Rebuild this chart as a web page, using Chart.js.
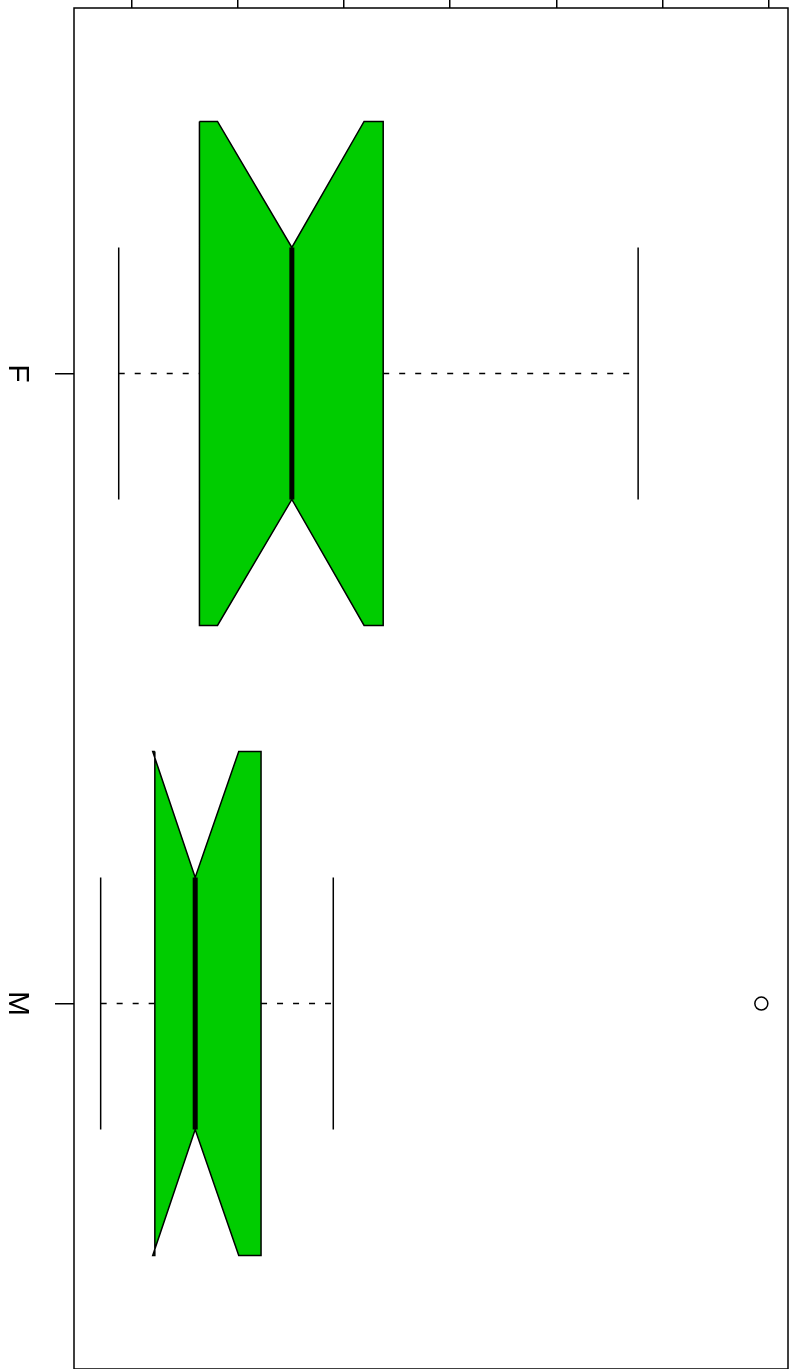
<!DOCTYPE html>
<html>
<head>
<meta charset="utf-8">
<script src="https://cdn.jsdelivr.net/npm/chart.js@4.4.1/dist/chart.umd.min.js"></script>
<style>
  html, body { margin: 0; padding: 0; background: #fff; }
  canvas { display: block; }
</style>
</head>
<body>
<canvas id="boxChart" width="794" height="1369"></canvas>
<script>
// box statistics, one entry per group
const categories = ['F', 'M'];
const whiskerLow = [8.8, 7.1];
const hingeLow = [16.4, 12.2];
const notchLow = [18.1, 12.0];
const medians = [25.1, 16.0];
const notchHigh = [31.9, 20.1];
const hingeHigh = [33.7, 22.2];
const whiskerHigh = [57.7, 29.0];
const outliers = [[], [69.3]];
const valueTicks = [10, 20, 30, 40, 50, 60, 70];

document.addEventListener('DOMContentLoaded', () => {
    const green = 'rgb(0, 204, 0)';
    const lw = 1.5;
    const half = 0.4;      // half box width
    const waist = 0.2;     // half width at the notch
    const staple = 0.2;    // half staple width

    const seg = (pts, extra) => Object.assign({
        data: pts,
        showLine: true,
        borderColor: '#000',
        borderWidth: lw,
        pointRadius: 0,
        pointHoverRadius: 0,
        fill: false,
        tension: 0
    }, extra);

    const datasets = [];
    categories.forEach((cat, i) => {
        const y = i + 1;
        // median
        datasets.push(seg([{ x: medians[i], y: y - waist }, { x: medians[i], y: y + waist }],
            { borderWidth: 5, order: 0, borderCapStyle: 'butt' }));
        // whiskers
        datasets.push(seg([{ x: whiskerLow[i], y }, { x: hingeLow[i], y }],
            { borderDash: [6, 10], order: 1 }));
        datasets.push(seg([{ x: hingeHigh[i], y }, { x: whiskerHigh[i], y }],
            { borderDash: [6, 10], order: 1 }));
        // staples
        datasets.push(seg([{ x: whiskerLow[i], y: y - staple }, { x: whiskerLow[i], y: y + staple }], { order: 1 }));
        datasets.push(seg([{ x: whiskerHigh[i], y: y - staple }, { x: whiskerHigh[i], y: y + staple }], { order: 1 }));
        // notched box
        const box = [
            { x: hingeLow[i], y: y - half },
            { x: notchLow[i], y: y - half },
            { x: medians[i], y: y - waist },
            { x: notchHigh[i], y: y - half },
            { x: hingeHigh[i], y: y - half },
            { x: hingeHigh[i], y: y + half },
            { x: notchHigh[i], y: y + half },
            { x: medians[i], y: y + waist },
            { x: notchLow[i], y: y + half },
            { x: hingeLow[i], y: y + half },
            { x: hingeLow[i], y: y - half }
        ];
        datasets.push(seg(box, { fill: 'shape', backgroundColor: green, order: 2, borderJoinStyle: 'miter' }));
        // outliers
        if (outliers[i].length) {
            datasets.push({
                data: outliers[i].map(v => ({ x: v, y })),
                showLine: false,
                pointRadius: 6.5,
                pointHoverRadius: 6.5,
                pointBackgroundColor: '#fff',
                pointBorderColor: '#000',
                pointBorderWidth: lw,
                order: 0
            });
        }
    });

    const frame = {
        id: 'frame',
        afterDraw(chart) {
            const { ctx, chartArea: a } = chart;
            ctx.save();
            ctx.strokeStyle = '#000';
            ctx.lineWidth = lw;
            ctx.strokeRect(a.left, a.top, a.right - a.left, a.bottom - a.top);
            ctx.restore();
        }
    };

    new Chart(document.getElementById('boxChart').getContext('2d'), {
        type: 'scatter',
        data: { datasets },
        plugins: [frame],
        options: {
            responsive: false,
            animation: false,
            events: [],
            // bottom edge of the frame sits just below the canvas
            layout: { autoPadding: false, padding: { top: 0, right: 6, bottom: -3, left: 0 } },
            plugins: {
                legend: { display: false },
                tooltip: { enabled: false }
            },
            scales: {
                x: {
                    type: 'linear',
                    position: 'top',
                    min: 4.59,
                    max: 71.81,
                    afterBuildTicks: s => { s.ticks = valueTicks.map(v => ({ value: v })); },
                    afterFit: s => { s.height = 8; s.paddingLeft = 0; s.paddingRight = 0; },
                    ticks: { display: false },
                    grid: { drawOnChartArea: false, tickLength: 8, color: '#000', lineWidth: lw },
                    border: { display: false }
                },
                y: {
                    type: 'linear',
                    reverse: true,
                    min: 0.42,
                    max: 2.58,
                    afterBuildTicks: s => { s.ticks = categories.map((c, i) => ({ value: i + 1 })); },
                    afterFit: s => { s.width = 74; s.paddingTop = 0; s.paddingBottom = 0; },
                    ticks: {
                        callback: v => categories[Math.round(v) - 1],
                        minRotation: -90,
                        maxRotation: -90,
                        crossAlign: 'center',
                        padding: 25,
                        color: '#000',
                        font: { family: 'Liberation Sans, Arial, sans-serif', size: 30 }
                    },
                    grid: { drawOnChartArea: false, tickLength: 19, color: '#000', lineWidth: lw },
                    border: { display: false }
                }
            }
        }
    });
});
</script>
</body>
</html>
